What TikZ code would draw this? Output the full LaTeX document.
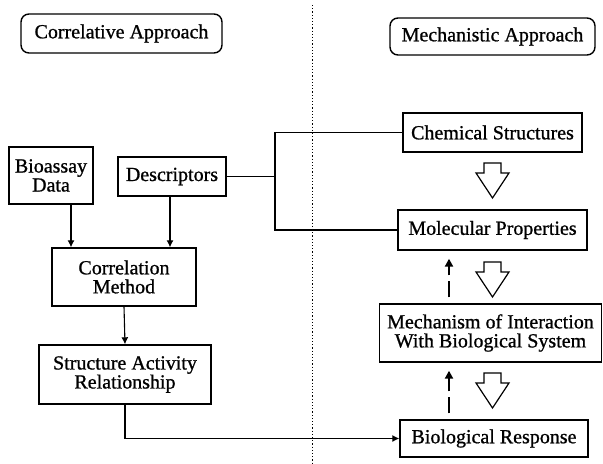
\documentclass[tikz,border=0pt]{standalone}
\usepackage{fontspec}
\setmainfont[FakeBold=0.9]{Liberation Serif}
\usetikzlibrary{arrows.meta}

\begin{document}
\begin{tikzpicture}[x=0.5pt, y=-0.5pt,
    box/.style={draw, line width=0.7pt, align=center, inner sep=1pt, font=\fontsize{10}{9.5}\selectfont},
    rbox/.style={box, rounded corners=4pt},
    arr/.style={line width=0.55pt, -{Latex[length=3.5pt, width=3.5pt]}},
    dasharr/.style={line width=1.1pt, dash pattern=on 8pt off 3pt, -{Triangle[length=4pt, width=4pt]}, shorten <=3pt, shorten >=4pt}]
    \useasboundingbox (0,0) rectangle (603,464);

    \draw[line width=0.5pt, dash pattern=on 0.6pt off 1pt] (312,5) -- (312,464);

    \node[rbox, minimum width=100.5pt, minimum height=19.5pt] (corrap) at (121.5,33.5) {Correlative Approach};
    \node[rbox, minimum width=102.5pt, minimum height=18.5pt] (mechap) at (492.5,36.5) {Mechanistic Approach};

    \node[box, minimum width=89.5pt, minimum height=19.5pt] (chem) at (492.5,132.5) {Chemical Structures};
    \node[box, minimum width=94.5pt, minimum height=20pt] (mol) at (492.5,230) {Molecular Properties};
    \node[box, minimum width=111pt, minimum height=29pt] (mech) at (490.5,333) {Mechanism of Interaction\\With Biological System};
    \node[box, minimum width=94pt, minimum height=18.5pt] (resp) at (494,438.5) {Biological Response};

    \node[box, minimum width=42pt, minimum height=28.5pt] (bio) at (51,175.5) {Bioassay\\Data};
    \node[box, minimum width=54pt, minimum height=19.5pt] (desc) at (172,176.5) {Descriptors};
    \node[box, minimum width=72pt, minimum height=29pt] (corr) at (124,277) {Correlation\\Method};
    \node[box, minimum width=86pt, minimum height=29.5pt] (sar) at (125,374.5) {Structure Activity\\Relationship};

    \coordinate (jn) at (275,0);
    \coordinate (xa) at (71,0);
    \coordinate (xb) at (170,0);
    \coordinate (xd) at (449,0);

    \draw[line width=0.55pt] (chem.west) -| (mol.west -| jn) -- (mol.west);
    \draw[line width=0.55pt] (desc.east) -- (desc.east -| jn);
    \draw[arr] (bio.south -| xa) -- (corr.north -| xa);
    \draw[arr] (desc.south -| xb) -- (corr.north -| xb);
    \draw[arr] (corr.south) -- (sar.north);
    \draw[arr] (sar.south) |- (resp.west);

    \draw[dasharr] (mech.north -| xd) -- (mol.south -| xd);
    \draw[dasharr] (resp.north -| xd) -- (mech.south -| xd);

    \foreach \y in {163, 262, 373} {\draw[line width=0.6pt, line join=miter] (484,\y) -- (501,\y) -- (501,\y+10) -- (509,\y+10) -- (492.5,\y+35) -- (476,\y+10) -- (484,\y+10) -- cycle;}
\end{tikzpicture}
\end{document}
